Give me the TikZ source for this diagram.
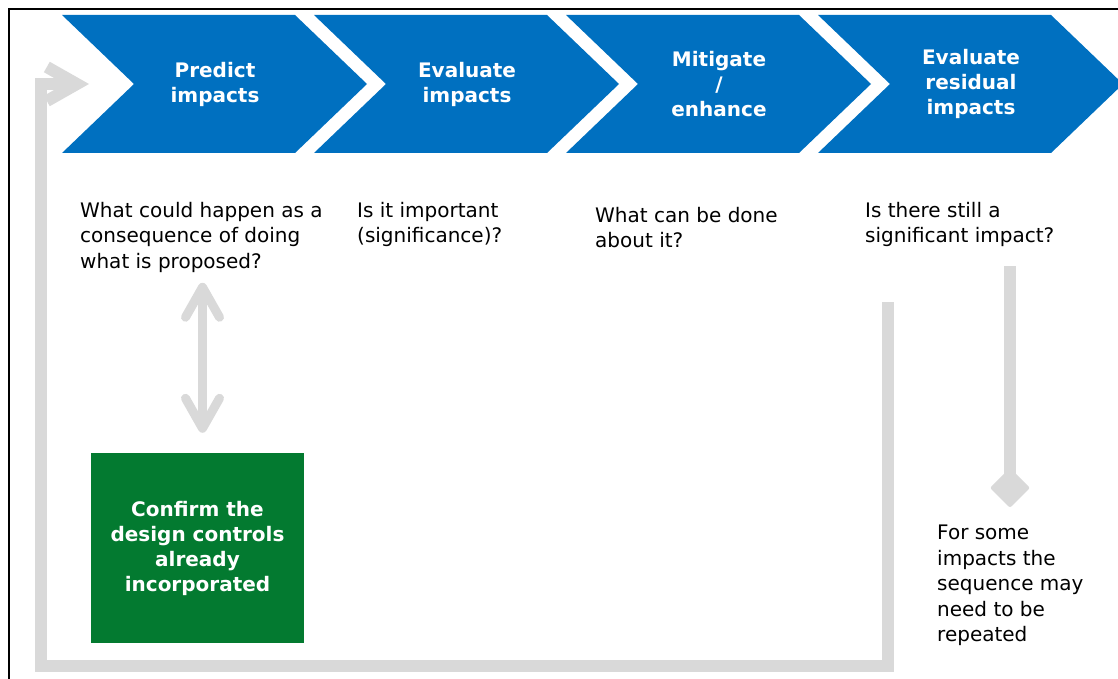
\documentclass[tikz,border=0pt]{standalone}
\usepackage{fontspec}
\setmainfont{DejaVu Sans}
\usepackage{tikz}
\usetikzlibrary{calc,arrows.meta}

\definecolor{stepblue}{HTML}{0070C0}
\definecolor{confirmgreen}{HTML}{037A30}
\definecolor{loopgrey}{HTML}{D9D9D9}

\tikzset{
	chevron/.style={fill=stepblue},
	steplabel/.style={text=white,align=center,font=\bfseries\fontsize{20}{25}\selectfont},
	question/.style={anchor=north west,align=left,inner sep=0pt,font=\fontsize{20}{25.5}\selectfont},
	greyloop/.style={draw=loopgrey,line width=12pt,line join=miter},
	twoway/.style={draw=loopgrey,line width=9pt,{Straight Barb[length=30pt,width=34pt,round]}-{Straight Barb[length=30pt,width=34pt,round]}},
}

\begin{document}
\begin{tikzpicture}[x=1pt,y=-1pt]
			\useasboundingbox (0,0) rectangle (1118,679);
			\draw[line width=1.6pt] (9,679) -- (9,9) -- (1118,9);
			\foreach \x/\name/\txt in {62/predict/{Predict\\impacts},314/evaluate/{Evaluate\\impacts},566/mitigate/{Mitigate\\/\\enhance},818/residual/{Evaluate\\residual\\impacts}}
			{
				\fill[chevron] (\x,15) -- ++(233,0) -- ++(72,69) -- ++(-72,69) -- ++(-233,0) -- ++(72,-69) -- cycle;
				\coordinate (\name-notch) at ({\x+72},84);
				\node[steplabel] (\name) at ({\x+153},84) {\txt};
			}
			\node[question] (whathappens) at (80,202) {What could happen as a\\consequence of doing\\what is proposed?};
			\node[question] (important) at (357,202) {Is it important\\(significance)?};
			\node[question] (whatdone) at (595,207) {What can be done\\about it?};
			\node[question] (stillimpact) at (865,202) {Is there still a\\significant impact?};
			\node[question] (repeatnote) at (937,525) {For some\\impacts the\\sequence may\\need to be\\repeated};
			\node[fill=confirmgreen,text=white,font=\bfseries\fontsize{20}{25}\selectfont,align=center,minimum width=213pt,minimum height=190pt] (confirm) at (197.5,548) {Confirm the\\design controls\\already\\incorporated};
			\draw[twoway] ($(whathappens.south -| confirm.north)+(5,10)$) -- ($(confirm.north)+(5,-20)$);
			\draw[greyloop,-{Diamond[length=40pt,width=40pt,line width=4pt,round]}] ($(stillimpact.south west)+(145,19)$) -- ($(repeatnote.north west)+(73,-18)$);
			\coordinate (loopfrom) at (888,302);
			\draw[greyloop,-{Straight Barb[length=30pt,width=34pt]}] (loopfrom) |- (41,666) |- ($(predict-notch)+(-45,0)$);
		\end{tikzpicture}
\end{document}
